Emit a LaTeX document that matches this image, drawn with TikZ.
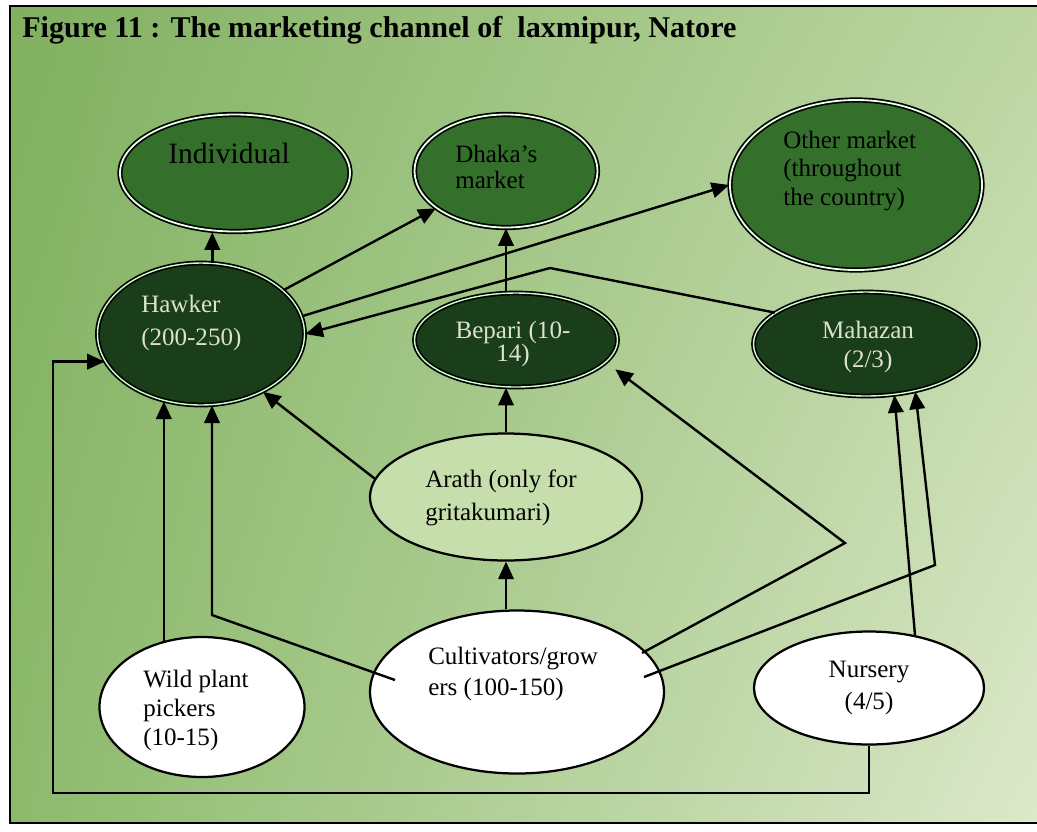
\documentclass[tikz,border=0pt]{standalone}
\usepackage{fontspec}
\setmainfont{Liberation Serif}
\usepackage{tikz}
\usetikzlibrary{calc,arrows.meta,shapes.geometric,shadings}
\definecolor{bgul}{RGB}{128,176,96}
\definecolor{bgur}{RGB}{188,214,162}
\definecolor{bgll}{RGB}{140,186,108}
\definecolor{bglr}{RGB}{220,232,202}
\definecolor{midgreen}{RGB}{52,112,44}
\definecolor{darkgreen}{RGB}{26,62,26}
\definecolor{palegreen}{RGB}{198,222,172}
\definecolor{paletext}{RGB}{222,224,208}

\tikzset{
  oval/.style 2 args={ellipse, draw=black, line width=1.6pt, minimum width=#1*0.025cm, minimum height=#2*0.025cm, inner sep=0pt},
  market/.style={fill=midgreen, line width=1.2pt, double=white!90!green, double distance=1.3pt},
  trader/.style={fill=darkgreen, line width=1.2pt, double=white!80!green, double distance=1pt},
  source/.style={fill=white},
  txt/.style={font=\fontsize{17.8}{#1}\selectfont, align=left, inner sep=0pt},
  txt/.default=22,
  arr/.style={-{Triangle[length=12.5pt,width=11pt]}, line width=1.7pt},
}

\begin{document}
\begin{tikzpicture}[x=0.025cm, y=-0.025cm]
    \useasboundingbox (0,0) rectangle (1037,831);
    \fill[white] (0,0) rectangle (1037,831);

    % Background and frame
    \shade[upper left=bgul, upper right=bgur, lower left=bgll, lower right=bglr] (10,6) rectangle (1037,823);
    \draw[line width=1pt] (1045,6) -- (10,6) -- (10,823) -- (1045,823);

    \node[anchor=base west, inner sep=0pt, font=\bfseries\fontsize{21.4}{25}\selectfont] (title) at (22,37)
        {Figure 11 : The marketing channel of~~laxmipur, Natore};

    % Markets
    \node[oval={230}{117}, market] (indiv) at (235,173) {};
    \node[oval={183}{113}, market] (dhaka) at (506,171) {};
    \node[oval={252}{170}, market] (other) at (856,185) {};

    % Traders
    \node[oval={207}{142}, trader] (hawker) at (201,334) {};
    \node[oval={203}{94}, trader] (bepari) at (516,340) {};
    \node[oval={225}{104}, trader] (mahazan) at (866,344) {};
    \node[oval={272}{127}, fill=palegreen] (arath) at (506,497) {};

    % Sources
    \node[oval={294}{163}, source] (cult) at (517,692) {};
    \node[oval={205}{140}, source] (wild) at (202,707) {};
    \node[oval={230}{113}, source] (nursery) at (869,688) {};

    % Bends
    \coordinate (mbend) at (550,268);
    \coordinate (cbend) at (212,615);
    \coordinate (bbend) at (845,543);
    \coordinate (zbend) at (935,565);
    \coordinate (loopbl) at (53,793);

    % Flows to the markets
    \draw[arr] (hawker.81) -- (hawker.81 |- indiv.south);
    \draw[arr] (hawker.28) -- (dhaka.208);
    \draw[arr] (hawker.10) -- (other.180);
    \draw[arr] (bepari.north -| dhaka.south) -- (dhaka.south);
    \draw[arr] (arath.north) -- (arath.north |- bepari.south);
    \draw[arr] (cult.north -| arath.south) -- (arath.south);

    % Flows back to hawker
    \draw[arr] (mahazan.161) -- (mbend) -- (hawker.east);
    \draw[arr] (arath.172) -- (hawker.317);
    \draw[arr] (wild.120) -- (wild.120 |- hawker.242);
    \draw[arr] ($(cult.center)+(-122,-12)$) -- (cbend) -- (cbend |- hawker.279);
    \draw[arr] (nursery.south) |- (loopbl) |- (hawker.196);

    % Flows to bepari and mahazan
    \draw[arr, shorten >=8pt] ($(cult.center)+(125,-39)$) -- (bbend) -- (bepari.346);
    \draw[arr] ($(cult.center)+(127,-15)$) -- (zbend) -- (mahazan.316);
    \draw[arr] (nursery.49) -- (mahazan.299);

    % Labels
    \node[txt, font=\fontsize{21}{25}\selectfont, anchor=base] (indivtxt) at (229,163) {Individual};
    \node[txt=18, anchor=west] (dhakatxt) at (455,167) {Dhaka's\\market};
    \node[txt=20.5, anchor=west] (othertxt) at (783,171) {Other market\\(throughout\\the country)};
    \node[txt=23, anchor=west, text=paletext] (hawkertxt) at (141,323) {Hawker\\(200-250)};
    \node[txt=17, align=center, text=paletext] (bepatxt) at (513,344) {Bepari (10-\\14)};
    \node[txt=20.5, align=center, text=paletext] (mahatxt) at (868,347) {Mahazan\\(2/3)};
    \node[txt=23.5, anchor=west] (arathtxt) at (425,498) {Arath (only for\\gritakumari)};
    \node[txt=21.5, anchor=west] (culttxt) at (428,674) {Cultivators/grow\\ers (100-150)};
    \node[txt=20.6, anchor=west] (wildtxt) at (143,710) {Wild plant\\pickers\\(10-15)};
    \node[txt=23, align=center] (nurstxt) at (869,688) {Nursery\\(4/5)};
\end{tikzpicture}
\end{document}
